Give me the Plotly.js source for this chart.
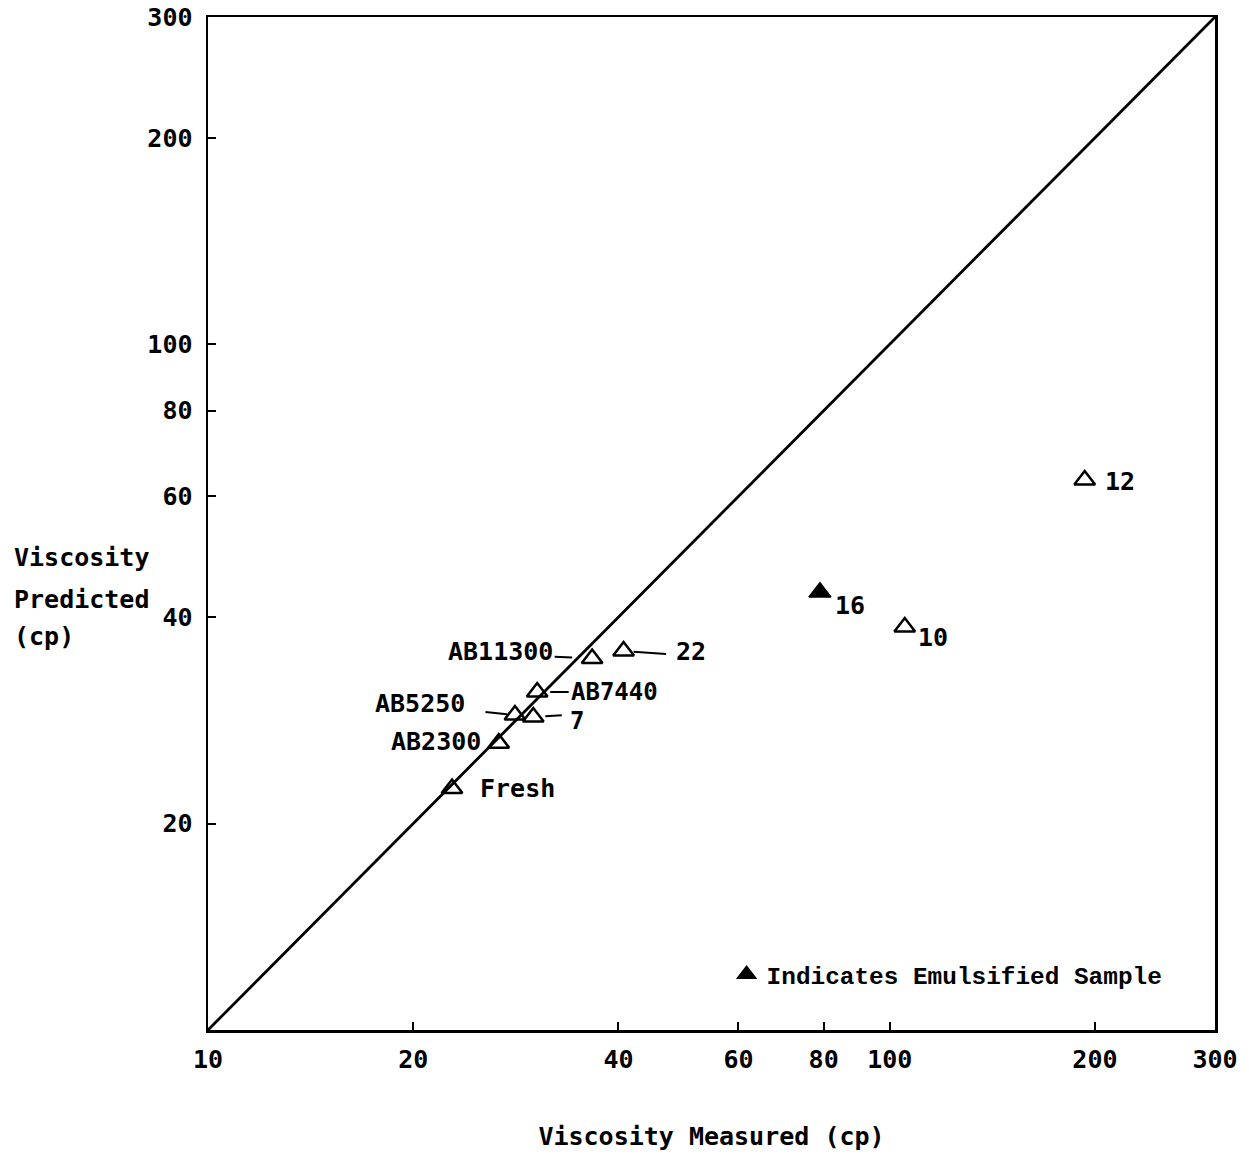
<!DOCTYPE html>
<html>
<head>
<meta charset="utf-8">
<script src="https://cdn.plot.ly/plotly-3.0.1.min.js"></script>
<style>html,body{margin:0;padding:0;background:#fff;}#chart{width:1249px;height:1155px;}</style>
</head>
<body>
<div id="chart"></div>
<script>
// ---- data ----
var sampleNames   = ["Fresh", "AB2300", "AB5250", "7", "AB7440", "AB11300", "22", "10", "12"];
var measuredOpen  = [22.8, 26.7, 28.2, 30.0, 30.4, 36.6, 40.7, 105.2, 193.2];
var predictedOpen = [22.5, 26.2, 28.8, 28.6, 31.1, 34.8, 35.7, 38.7, 63.4];

var emulsNames     = ["16"];
var measuredEmuls  = [79.0];
var predictedEmuls = [43.5];

var lineX = [10, 300];
var lineY = [10, 300];

var xTicks = [10, 20, 40, 60, 80, 100, 200, 300];
var yTicks = [20, 40, 60, 80, 100, 200, 300];

var yTitleLines = ["Viscosity", "Predicted", "(cp)"];
var xTitle = "Viscosity Measured (cp)";
var legendText = "Indicates Emulsified Sample";

// ---- label placement (pixel offsets from each point) ----
var labelStyle = {
  "Fresh":   {anchor: "left",  dx: 27,  dy: 0,   size: 25},
  "AB2300":  {anchor: "right", dx: -17, dy: -2,  size: 25},
  "AB5250":  {anchor: "right", dx: -49, dy: -11, size: 25},
  "7":       {anchor: "left",  dx: 36,  dy: 4,   size: 24},
  "AB7440":  {anchor: "left",  dx: 33,  dy: 0,   size: 24},
  "AB11300": {anchor: "right", dx: -38, dy: -7,  size: 25},
  "22":      {anchor: "left",  dx: 51,  dy: 1,   size: 25},
  "16":      {anchor: "left",  dx: 14,  dy: 13,  size: 25},
  "10":      {anchor: "left",  dx: 12,  dy: 11,  size: 25},
  "12":      {anchor: "left",  dx: 19,  dy: 2,   size: 25}
};
// leader lines: tail offset (ax, ay) and standoff from point
var leaderStyle = {
  "AB5250":  {ax: -31, ay: -3, standoff: 8},
  "7":       {ax: 30,  ay: -2, standoff: 12},
  "AB7440":  {ax: 33,  ay: 0,  standoff: 13},
  "AB11300": {ax: -39, ay: -2, standoff: 20},
  "22":      {ax: 44,  ay: 3,  standoff: 10}
};

var FONT = "DejaVu Sans Mono, monospace";
var TXT = {family: FONT, size: 25, color: "#000", weight: "bold"};

var traces = [
  {x: lineX, y: lineY, mode: "lines", type: "scatter",
   line: {color: "#000", width: 2.8}, showlegend: false, hoverinfo: "skip"},
  {x: measuredOpen, y: predictedOpen, mode: "markers", type: "scatter",
   marker: {symbol: "triangle-up-open", size: 18, color: "#000", line: {color: "#000", width: 2.5}},
   showlegend: false},
  {x: measuredEmuls, y: predictedEmuls, mode: "markers", type: "scatter",
   name: legendText,
   marker: {symbol: "triangle-up", size: 19, color: "#000", line: {color: "#000", width: 1.5}},
   showlegend: true}
];

var annotations = [];
function addLabels(names, xs, ys) {
  names.forEach(function (n, i) {
    var s = labelStyle[n];
    annotations.push({
      x: Math.log10(xs[i]), y: Math.log10(ys[i]), xref: "x", yref: "y",
      text: n, showarrow: false, xanchor: s.anchor, yanchor: "middle",
      xshift: s.dx, yshift: -s.dy, borderpad: 0,
      font: {family: FONT, size: s.size, color: "#000", weight: "bold"}
    });
    var l = leaderStyle[n];
    if (l) {
      annotations.push({
        x: Math.log10(xs[i]), y: Math.log10(ys[i]), xref: "x", yref: "y",
        text: "", showarrow: true, arrowhead: 0, arrowwidth: 2, arrowcolor: "#000",
        ax: l.ax, ay: l.ay, standoff: l.standoff
      });
    }
  });
}
addLabels(sampleNames, measuredOpen, predictedOpen);
addLabels(emulsNames, measuredEmuls, predictedEmuls);

var yTitlePos = [0.466, 0.4245, 0.388];
yTitleLines.forEach(function (t, i) {
  annotations.push({
    xref: "paper", yref: "paper", x: -0.194, y: yTitlePos[i], xanchor: "left", yanchor: "middle",
    showarrow: false, text: t, font: TXT, borderpad: 0
  });
});

var layout = {
  width: 1249, height: 1155,
  margin: {l: 208, r: 34, t: 17, b: 125},
  paper_bgcolor: "#fff", plot_bgcolor: "#fff",
  font: TXT,
  showlegend: true,
  legend: {x: 0.515, y: 0.055, xanchor: "left", yanchor: "middle",
           bgcolor: "rgba(0,0,0,0)", borderwidth: 0,
           font: {family: "Liberation Mono, Courier New, monospace", size: 24.4, color: "#000", weight: "bold"},
           itemsizing: "trace", itemwidth: 30},
  xaxis: {
    type: "log", range: [1, Math.log10(300)],
    tickvals: xTicks, ticktext: xTicks.map(String),
    ticks: "inside", ticklen: 8, tickwidth: 2, tickcolor: "#000",
    showline: true, linewidth: 2.5, linecolor: "#000", mirror: true,
    showgrid: false, zeroline: false,
    tickfont: TXT, ticklabelstandoff: 5,
    title: {text: xTitle, font: TXT, standoff: 55}
  },
  yaxis: {
    type: "log", range: [1, Math.log10(300)],
    tickvals: yTicks, ticktext: yTicks.map(String),
    ticks: "inside", ticklen: 8, tickwidth: 2, tickcolor: "#000",
    showline: true, linewidth: 2.5, linecolor: "#000", mirror: true,
    showgrid: false, zeroline: false,
    tickfont: TXT, ticklabelstandoff: 8
  },
  annotations: annotations
};

Plotly.newPlot("chart", traces, layout, {displayModeBar: false, staticPlot: true});
</script>
</body>
</html>
